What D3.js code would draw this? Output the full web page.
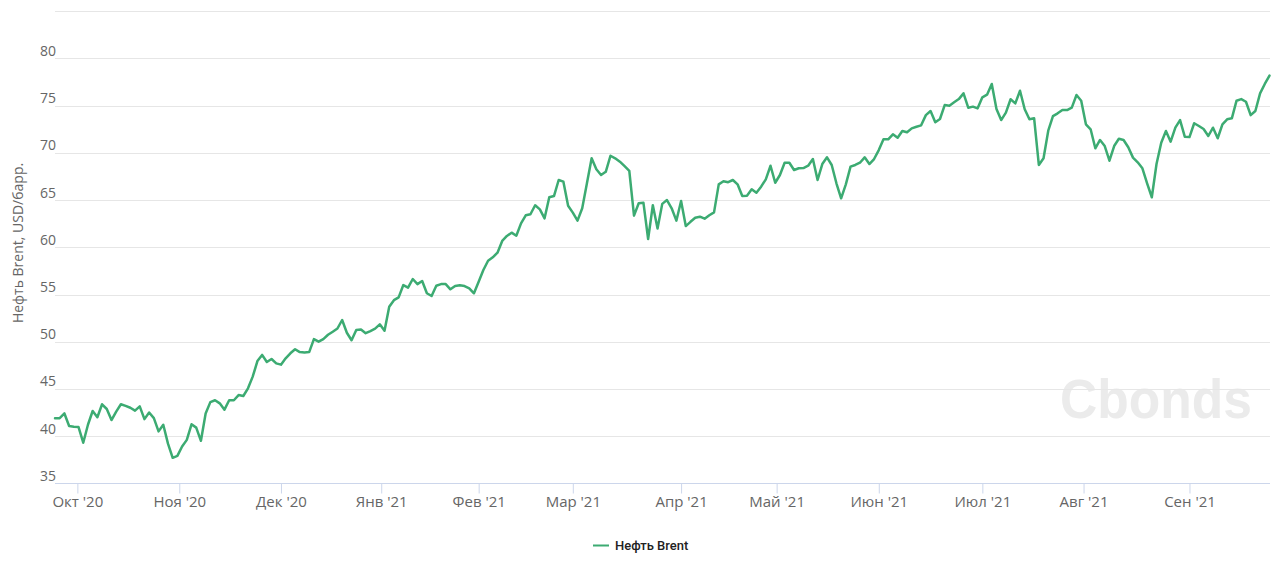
<!DOCTYPE html>
<html>
<head>
<meta charset="utf-8">
<script src="https://cdn.jsdelivr.net/npm/d3@7"></script>
<style>
  html, body { margin: 0; padding: 0; background: #fff; }
  svg { display: block; }
</style>
</head>
<body>
<svg id="chart" width="1280" height="578"></svg>
<script>
// Brent price, USD/bbl, daily trading points (ordinal axis)
const brentValues = [
  41.9, 41.9, 42.4, 41.07, 41.0, 40.96, 39.3, 41.2, 42.66, 42.0,
  43.37, 42.87, 41.7, 42.6, 43.37, 43.2, 43.0, 42.7, 43.15, 41.8,
  42.5, 41.9, 40.5, 41.2, 39.2, 37.7, 37.9, 38.9, 39.6, 41.25,
  40.9, 39.5, 42.4, 43.6, 43.8, 43.47, 42.8, 43.8, 43.8, 44.35,
  44.25, 45.06, 46.3, 47.95, 48.6, 47.85, 48.17, 47.7, 47.57, 48.24,
  48.77, 49.2, 48.9,
  48.85, 48.9, 50.28, 50.0, 50.28, 50.74, 51.06, 51.4, 52.3, 50.95,
  50.15, 51.24, 51.3, 50.9, 51.13, 51.38, 51.84, 51.17, 53.7, 54.4,
  54.7, 56.0, 55.72, 56.64, 56.1, 56.43, 55.13, 54.84, 55.93, 56.1,
  56.1, 55.55, 55.9, 55.97, 55.9, 55.66, 55.13, 56.36, 57.6, 58.58,
  58.94, 59.43, 60.67, 61.2, 61.55, 61.23, 62.54, 63.39, 63.5, 64.45,
  64.02, 63.07,
  65.3, 65.43, 67.13, 66.95, 64.4, 63.67, 62.82, 64.13, 66.78, 69.43,
  68.26, 67.66, 68.0, 69.7, 69.43, 69.07, 68.6, 68.1, 63.35, 64.66,
  64.73, 60.88, 64.45, 62.0, 64.6, 65.0, 64.13, 62.82, 64.9, 62.25,
  62.7, 63.13, 63.24, 63.03, 63.39, 63.7, 66.67, 66.99, 66.9, 67.13,
  66.67, 65.43, 65.47, 66.14, 65.78, 66.42, 67.2, 68.64, 66.84, 67.66,
  68.96, 68.96,
  68.19, 68.37, 68.4, 68.64, 69.35, 67.13, 68.82, 69.53, 68.72, 66.78,
  65.19, 66.67, 68.54, 68.72, 68.96, 69.53, 68.82, 69.35, 70.3, 71.44,
  71.44, 71.97, 71.6, 72.32, 72.18, 72.6, 72.77, 72.92, 74.0, 74.44,
  73.24, 73.59, 75.07, 75.0, 75.36, 75.7, 76.31, 74.79, 74.9, 74.72,
  75.89, 76.17, 77.3, 74.65, 73.48, 74.26, 75.68, 75.25, 76.59, 74.62,
  73.56, 73.66,
  68.72, 69.43, 72.35, 73.9, 74.19, 74.54, 74.54, 74.79, 76.13, 75.53,
  73.03, 72.5, 70.49, 71.37, 70.73, 69.17, 70.73, 71.5, 71.37, 70.6,
  69.5, 69.0, 68.37, 66.78, 65.3, 68.82, 71.08, 72.32, 71.19, 72.67,
  73.48, 71.72, 71.68, 73.14, 72.85, 72.53, 71.79, 72.67, 71.55, 73.03,
  73.56, 73.66, 75.53, 75.7, 75.42, 74.0, 74.44, 76.31, 77.3, 78.18
];

// Month labels and their positions on the ordinal (trading-day index) axis
const monthLabels = ["Окт '20", "Ноя '20", "Дек '20", "Янв '21", "Фев '21", "Мар '21",
                     "Апр '21", "Май '21", "Июн '21", "Июл '21", "Авг '21", "Сен '21"];
const monthIndex = [4.75, 26.4, 48, 69.3, 90, 110, 133, 153.3, 175, 197, 218.5, 241];

const yGridTicks = [35, 40, 45, 50, 55, 60, 65, 70, 75, 80, 85];
const yLabelTicks = [35, 40, 45, 50, 55, 60, 65, 70, 75, 80];

const seriesName = "Нефть Brent";
const yAxisTitle = "Нефть Brent, USD/барр.";
const watermark = "Cbonds";

const lineColor = "#3cab72";
const font = "'Open Sans', 'DejaVu Sans', sans-serif";

(function () {
const svg = d3.select("#chart");
const plotLeft = 55, plotRight = 1269.5, plotTop = 11.3, plotBottom = 483.3;

const x = d3.scaleLinear().domain([0, brentValues.length - 1]).range([plotLeft, plotRight]);
const y = d3.scaleLinear().domain([35, 85]).range([plotBottom, plotTop]);

// watermark
svg.append("text")
  .attr("x", 1156).attr("y", 418)
  .attr("text-anchor", "middle")
  .attr("font-family", "'Liberation Sans', Arial, sans-serif")
  .attr("font-weight", "bold")
  .attr("font-size", 55)
  .attr("textLength", 192)
  .attr("lengthAdjust", "spacingAndGlyphs")
  .attr("fill", "#ebebeb")
  .text(watermark);

// gridlines
svg.append("g")
  .selectAll("line")
  .data(yGridTicks.filter(v => v !== 35))
  .join("line")
  .attr("x1", plotLeft).attr("x2", 1270)
  .attr("y1", d => Math.round(y(d)) + 0.5)
  .attr("y2", d => Math.round(y(d)) + 0.5)
  .attr("stroke", "#e6e6e6")
  .attr("stroke-width", 1);

// y labels
svg.append("g")
  .selectAll("text")
  .data(yLabelTicks)
  .join("text")
  .attr("x", 56)
  .attr("y", d => y(d) - 2.5)
  .attr("text-anchor", "end")
  .attr("font-family", font)
  .attr("font-size", 14)
  .attr("fill", "#666")
  .text(d => d);

// y title
svg.append("text")
  .attr("transform", "translate(23,243) rotate(-90)")
  .attr("text-anchor", "middle")
  .attr("font-family", font)
  .attr("font-size", 14)
  .attr("fill", "#666")
  .text(yAxisTitle);

// x axis
const xAxis = d3.axisBottom(x)
  .tickValues(monthIndex)
  .tickFormat((d, i) => monthLabels[i])
  .tickSize(10)
  .tickPadding(3);

const gx = svg.append("g")
  .attr("transform", `translate(0,${Math.round(plotBottom) + 0.5})`)
  .call(xAxis);
gx.select(".domain").attr("d", `M${plotLeft},0H1270`).attr("stroke", "#ccd6eb");
gx.selectAll(".tick line").attr("stroke", "#ccd6eb");
gx.selectAll(".tick text")
  .attr("font-family", font)
  .attr("font-size", 15)
  .attr("fill", "#666");

// line
const line = d3.line()
  .x((d, i) => x(i))
  .y(d => y(d));

svg.append("path")
  .datum(brentValues)
  .attr("d", line)
  .attr("fill", "none")
  .attr("stroke", lineColor)
  .attr("stroke-width", 2.5)
  .attr("stroke-linejoin", "round")
  .attr("stroke-linecap", "round");

// legend
const lg = svg.append("g");
lg.append("line")
  .attr("x1", 593).attr("x2", 609)
  .attr("y1", 545.5).attr("y2", 545.5)
  .attr("stroke", lineColor)
  .attr("stroke-width", 2);
lg.append("text")
  .attr("x", 615).attr("y", 550)
  .attr("font-family", "Roboto, 'Open Sans', sans-serif")
  .attr("font-weight", 500)
  .attr("font-size", 13)
  .attr("fill", "#222")
  .text(seriesName);
})();
</script>
</body>
</html>
